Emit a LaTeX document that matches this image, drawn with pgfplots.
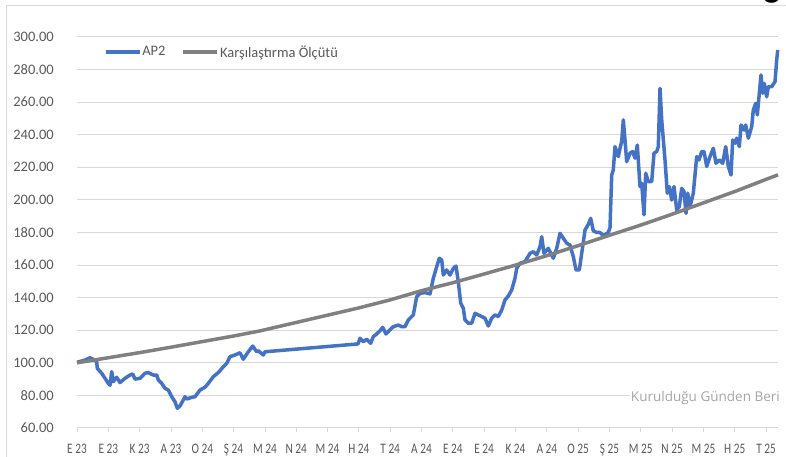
\documentclass[border=0pt]{standalone}
\usepackage{fontspec}
\setmainfont{Carlito}
\newfontfamily\xfont[FakeStretch=0.78]{Carlito}
\newfontfamily\osfont{Open Sans}
\usepackage{pgfplots}
\pgfplotsset{compat=1.18}
\definecolor{apblue}{HTML}{4472C4}
\definecolor{bmgray}{HTML}{808080}
\definecolor{gridc}{HTML}{D9D9D9}
\definecolor{lab}{HTML}{595959}
\begin{document}
\begin{tikzpicture}
\useasboundingbox (-77pt,-29pt) rectangle (709pt,428pt);
\draw[gridc, line width=1pt] (-70pt,-40pt) -- (-70pt,422pt) -- (720pt,422pt);
\begin{axis}[
  at={(0pt,0pt)}, anchor=south west,
  scale only axis, width=701pt, height=391pt,
  xmin=0, xmax=701, ymin=60, ymax=300,
  ytick={60,80,...,300},
  xtick={0,31.32,...,690},
  xticklabels={E 23,E 23,K 23,A 23,O 24,Ş 24,M 24,N 24,M 24,H 24,T 24,A 24,E 24,E 24,K 24,A 24,O 25,Ş 25,M 25,N 25,M 25,H 25,T 25},
  ymajorgrids, grid style={gridc, line width=1pt},
  axis lines*=left,
  x axis line style={gridc, line width=1pt},
  y axis line style={draw=none},
  ytick style={draw=none},
  xtick style={gridc, line width=0.8pt},
  tick align=outside, major tick length=4pt,
  yticklabel style={font=\fontsize{14.5}{17}\selectfont, text=lab, inner sep=0pt, xshift=-19pt, anchor=east},
  xticklabel style={font=\xfont\fontsize{14.5}{17}\selectfont, text=lab, anchor=base, yshift=-21.5pt, inner sep=0pt},
  /pgf/number format/.cd, fixed, fixed zerofill, precision=2, 1000 sep={}, assume math mode=true,
  /pgfplots/.cd,
  clip=false,
  legend columns=2,
  legend image code/.code={\draw[#1] (0pt,0pt) -- (34pt,0pt);},
  legend style={at={(0.038,0.9616)}, anchor=west, draw=none, fill=none, inner sep=0pt,
    font=\fontsize{14.5}{17}\selectfont, text=lab,
    nodes={inner sep=1pt},
    /tikz/every even column/.append style={column sep=15pt}},
]
\addplot[apblue, line width=3.5pt, line join=round] coordinates {
(0,100.3) (8,101.7) (13,103.1) (16.3,102.2) (19.7,100.7) (20.3,96.6) (24.7,93.6) (28,90.5)
(31.3,87.4) (33,86.2) (34.7,94.6) (36.3,88.5) (39.7,91.1) (43,87.9) (48,90.5) (53,92.5)
(55.7,93.2) (58,90.0) (63,90.5) (68,93.6) (71.3,94.0) (76.3,92.5) (79.7,92.5) (81.3,89.5)
(84.7,87.4) (88,84.4) (91.3,83.3) (94.7,79.2) (98,76.1) (100.3,72.1) (103,73.5) (106.3,77.2)
(108,79.2) (109.7,77.8) (114.7,78.8) (118,79.2) (123,83.3) (128,85.0) (131.3,87.4) (136.3,91.5)
(141.3,94.0) (146.3,97.6) (149.7,99.7) (153,103.8) (158,104.8) (163,106.2) (166.3,102.2)
(171.3,106.8) (175.7,110.3) (179.7,106.8) (181.3,107.4) (186.3,104.8) (188,106.8)
(281,111.6) (283,115.1) (286.3,113.0) (289.7,114.5) (293.7,112.0) (296.3,116.1) (299.7,117.7)
(303,119.7) (305.7,121.8) (309,117.7) (313,120.2) (316.3,122.2) (321.3,123.2) (324.7,122.2)
(328,122.2) (331.3,126.3) (336.3,129.4) (339.7,140.6) (343,142.7) (348,143.1) (353,142.3)
(356.3,151.9) (359.7,159.0) (362.3,164.2) (364.7,163.1) (366.3,153.9) (369.7,157.0) (373,153.9)
(376.3,158.0) (379,159.4) (381.3,149.8) (383.7,136.6) (386.3,133.5) (388,126.3) (391.3,124.3)
(394.7,124.3) (398,130.4) (401.3,129.4) (404.7,128.4) (408,127.4) (411.3,122.6) (414.7,127.4)
(418,129.4) (421.3,128.4) (424.7,132.4) (428,138.6) (431.3,141.0) (434.7,144.7) (438,151.9)
(439.7,158.0) (443,161.1) (448,162.1) (453,167.2) (456.3,168.2) (459.7,166.2) (463,171.3)
(464.7,177.4) (467,167.2) (471.3,170.3) (476.3,164.2) (479.7,170.3) (483,179.5) (486.3,176.5)
(489.7,173.4) (493,172.3) (496.3,165.2) (499,157.0) (502.3,157.0) (504.7,167.2) (508,181.5)
(511.3,185.0) (513.7,188.7) (516.3,181.0) (519.7,180.0) (523,180.0) (526.3,178.0) (531.3,180.0)
(533,183.0) (534.7,215.3) (536.3,218.4) (538,232.7) (541.3,226.6) (543,231.7) (544.7,235.8)
(546.3,249.1) (548,236.8) (549.7,223.5) (553,228.7) (555.7,229.7) (558,225.6) (560.3,233.7)
(563,208.2) (564.7,210.2) (567,190.8) (568.7,216.4) (571.3,211.3) (574.7,211.3) (577,228.7)
(579.7,229.7) (581.3,232.7) (583,268.5) (584.7,249.1) (588,224.5) (590.3,204.1) (592.3,208.2)
(594.7,199.9) (597,208.2) (599.7,193.8) (602.3,195.9) (604.7,207.1) (607,205.1) (609,191.8)
(610.7,204.1) (613,195.9) (616.3,204.1) (619.7,226.6) (622,224.5) (624.7,229.7) (627,229.7)
(629.7,220.5) (633,226.6) (636.3,231.7) (639,222.5) (642.3,224.5) (645.7,222.5) (648.7,232.7)
(651.3,220.5) (654,215.3) (655.7,236.8) (658,234.8) (659.7,237.9) (662.3,232.7) (664,246.0)
(667,242.9) (668.7,246.0) (671.3,237.9) (674.7,245.0) (676.3,255.2) (678.7,259.3) (680.3,252.2)
(682.3,265.4) (684,276.7) (685.7,265.4) (687.3,271.5) (689.7,263.3) (691.3,269.5) (694.7,269.5)
(698,272.6) (699.7,285.9) (700.7,292.0)
};
\addlegendentry{AP2}
\addplot[bmgray, line width=3.5pt, line join=round] coordinates {
(0,100) (31,103.1) (63,106.3) (94,109.6) (125,113.0) (157,116.5) (183,119.6) (281,133.6)
(313,138.6) (344,144.2) (376,149.2) (407,154.5) (438,159.9) (470,165.8) (501,171.9) (532,178.2)
(564,184.6) (595,191.2) (626,198.1) (658,205.2) (689,212.6) (701,215.4)
};
\addlegendentry{Karşılaştırma Ölçütü}
\end{axis}
\node[anchor=base east, text=black!35, font=\osfont\fontsize{13.5}{15}\selectfont, fill=white, inner sep=1pt] at (704pt,26pt) {Kurulduğu Günden Beri};
\node[anchor=base, font=\fontsize{34}{34}\selectfont\bfseries] at (695pt,430pt) {g};
\end{tikzpicture}
\end{document}
